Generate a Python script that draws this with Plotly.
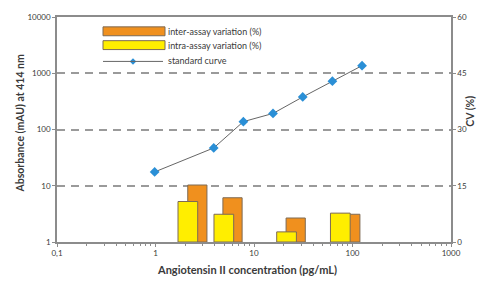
import numpy as np
import plotly.graph_objects as go

# ---- data ----
conc = [0.98, 3.9, 7.8, 15.6, 31.25, 62.5, 125]          # pg/mL
absorb = [17.6, 47, 138, 193, 379, 724, 1365]            # mAU
intra_conc = [2.13, 4.94, 21.4, 75.2]
intra_cv = [10.8, 7.4, 2.7, 7.7]
inter_conc = [2.66, 6.05, 26.5, 95.0]
inter_cv = [15.2, 11.8, 6.4, 7.4]

x_tickvals = [0.1, 1, 10, 100, 1000]
x_ticktext = ["0,1", "1", "10", "100", "1000"]
x_minor = [m * d for d in (0.1, 1, 10, 100) for m in range(2, 10)]
y_tickvals = [1, 10, 100, 1000, 10000]
y_ticktext = ["1", "10", "100", "1000", "10000"]
cv_tickvals = [0, 15, 30, 45, 60]

FONT = "Lato"
TXT = "#3a3a3a"
AX = "#8c8c8c"
ORANGE = "#F0901E"
YELLOW = "#FFEE00"
EDGE = "#7d6a55"
BLUE = "#2a8fd6"

fig = go.Figure()

fig.add_trace(go.Scatter(
    x=conc, y=absorb, mode="lines+markers", name="standard curve",
    line=dict(color="#666666", width=1),
    marker=dict(symbol="diamond", size=7.5, color=BLUE),
    xaxis="x", yaxis="y", showlegend=False))

fig.add_trace(go.Bar(
    x=np.log10(inter_conc), y=inter_cv, width=0.195, name="inter-assay variation (%)",
    marker=dict(color=ORANGE, line=dict(color=EDGE, width=1)),
    xaxis="x2", yaxis="y2", showlegend=False))

fig.add_trace(go.Bar(
    x=np.log10(intra_conc), y=intra_cv, width=0.2, name="intra-assay variation (%)",
    marker=dict(color=YELLOW, line=dict(color=EDGE, width=1)),
    xaxis="x2", yaxis="y2", showlegend=False))

W, H = 487, 284
L, R, T, B = 57, 36, 14, 42
pw, ph = W - L - R, H - T - B


def px(xp):
    return (xp - L) / pw


def py(yp):
    return (H - B - yp) / ph


shapes = [
    dict(type="rect", xref="paper", yref="paper", x0=px(103), x1=px(165), y0=py(33), y1=py(24),
         fillcolor=ORANGE, line=dict(color=EDGE, width=1)),
    dict(type="rect", xref="paper", yref="paper", x0=px(103), x1=px(165), y0=py(47), y1=py(38),
         fillcolor=YELLOW, line=dict(color=EDGE, width=1)),
    dict(type="line", xref="paper", yref="paper", x0=px(103), x1=px(163), y0=py(59), y1=py(59),
         line=dict(color="#666666", width=1)),
]

annotations = [
    dict(text="inter-assay variation (%)", xref="paper", yref="paper", x=px(166), y=py(28.5),
         xanchor="left", yanchor="middle", showarrow=False, font=dict(family=FONT, size=9, color=TXT)),
    dict(text="intra-assay variation (%)", xref="paper", yref="paper", x=px(166), y=py(42.5),
         xanchor="left", yanchor="middle", showarrow=False, font=dict(family=FONT, size=9, color=TXT)),
    dict(text="standard curve", xref="paper", yref="paper", x=px(166), y=py(58.5),
         xanchor="left", yanchor="middle", showarrow=False, font=dict(family=FONT, size=9, color=TXT)),
    dict(text="<b>Absorbance (mAU) at 414 nm</b>", xref="paper", yref="paper", x=px(20), y=py(122),
         xanchor="center", yanchor="middle", textangle=-90, showarrow=False,
         font=dict(family=FONT, size=10.5, color=TXT)),
    dict(text="<b>CV (%)</b>", xref="paper", yref="paper", x=px(470), y=py(110),
         xanchor="center", yanchor="middle", textangle=-90, showarrow=False,
         font=dict(family=FONT, size=10.5, color=TXT)),
    dict(text="<b>Angiotensin II concentration (pg/mL)</b>", xref="paper", yref="paper",
         x=px(247), y=py(270), xanchor="center", yanchor="middle", showarrow=False,
         font=dict(family=FONT, size=11, color=TXT)),
]

fig.add_trace(go.Scatter(
    x=[px(133)], y=[py(59)], xaxis="x3", yaxis="y3", mode="markers",
    marker=dict(symbol="diamond", size=5, color=BLUE), showlegend=False, hoverinfo="skip"))

fig.update_layout(
    width=W, height=H,
    margin=dict(l=L, r=R, t=T, b=B),
    paper_bgcolor="white", plot_bgcolor="white",
    barmode="overlay",
    showlegend=False,
    font=dict(family=FONT, size=8, color=TXT),
    xaxis=dict(type="log", range=[-1, 3], tickvals=x_tickvals, ticktext=x_ticktext,
               showgrid=False, showline=True, linecolor=AX, linewidth=1.5, mirror=True,
               ticks="outside", ticklen=3, tickcolor=AX,
               minor=dict(tickvals=x_minor, ticks="outside", ticklen=2, tickcolor=AX,
                          tickwidth=1, showgrid=False),
               tickfont=dict(size=8, color=TXT), zeroline=False),
    yaxis=dict(type="log", range=[0, 4], tickvals=y_tickvals, ticktext=y_ticktext,
               showgrid=True, gridcolor="#9a9a9a", gridwidth=1.5, griddash="8px,6px",
               showline=True, linecolor=AX, linewidth=1.5,
               ticks="outside", ticklen=3, tickcolor=AX,
               tickfont=dict(size=8, color=TXT), zeroline=False),
    xaxis2=dict(overlaying="x", range=[-1, 3], visible=False),
    yaxis2=dict(overlaying="y", side="right", range=[0, 60], tickvals=cv_tickvals,
                showgrid=False, showline=True, linecolor=AX, linewidth=1.5,
                ticks="outside", ticklen=3, tickcolor=AX,
                tickfont=dict(size=8, color=TXT), zeroline=False),
    xaxis3=dict(overlaying="x", range=[0, 1], visible=False),
    yaxis3=dict(overlaying="y", range=[0, 1], visible=False),
    shapes=shapes,
    annotations=annotations,
)

fig.write_html("out.html", config={"displayModeBar": False},
               post_script="document.body.style.margin='0';document.body.style.padding='0';")
